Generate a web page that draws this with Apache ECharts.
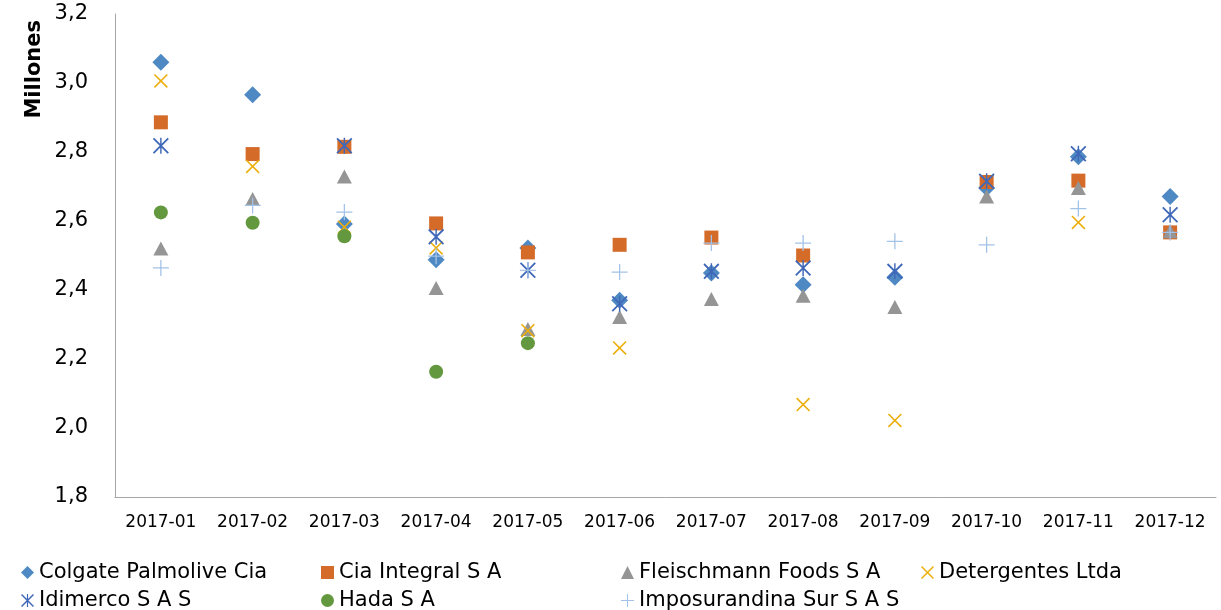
<!DOCTYPE html>
<html>
<head>
<meta charset="utf-8">
<script src="https://cdn.jsdelivr.net/npm/echarts@6/dist/echarts.min.js"></script>
<style>
  html, body { margin: 0; padding: 0; background: #fff; }
  #chart { width: 1221px; height: 610px; }
</style>
</head>
<body>
<div id="chart"></div>
<script>
// meses
const months = ["2017-01", "2017-02", "2017-03", "2017-04", "2017-05", "2017-06",
  "2017-07", "2017-08", "2017-09", "2017-10", "2017-11", "2017-12"];
const yTicks = [1.8, 2.0, 2.2, 2.4, 2.6, 2.8, 3.0, 3.2];

// valores en millones
const colgate = [3.06, 2.966, 2.591, 2.488, 2.522, 2.37, 2.449, 2.415, 2.437, 2.696, 2.786, 2.671];
const ciaIntegral = [2.886, 2.794, 2.815, 2.593, 2.509, 2.531, 2.552, 2.5, null, 2.713, 2.717, 2.567];
const fleischmann = [2.52, 2.664, 2.729, 2.406, 2.287, 2.322, 2.374, 2.383, 2.351, 2.671, 2.696, 2.57];
const detergentes = [3.006, 2.758, 2.582, 2.522, 2.282, 2.232, null, 2.068, 2.022, null, 2.596, null];
const idimerco = [2.818, null, 2.818, 2.554, 2.457, 2.36, 2.454, 2.464, 2.454, 2.715, 2.795, 2.618];
const hada = [2.625, 2.595, 2.556, 2.163, 2.246, null, null, null, null, null, null, null];
const imposurandina = [2.464, 2.645, 2.626, 2.498, 2.457, 2.452, 2.536, 2.536, 2.541, 2.531, 2.636, 2.567];

// simbolos de linea hechos con poligonos delgados
const xPath = "path://M0,0.8L0.8,0L10,9.2L9.2,10ZM9.2,0L10,0.8L0.8,10L0,9.2Z";
const starPath = "path://M0,0.8L0.8,0L10,9.2L9.2,10ZM9.2,0L10,0.8L0.8,10L0,9.2ZM4.55,0H5.45V10H4.55Z";
const plusPath = "path://M4.6,0H5.4V10H4.6ZM0,4.6H10V5.4H0Z";

const seriesDefs = [
  { name: "Colgate Palmolive Cia", data: colgate, symbol: "diamond", size: [17, 17], color: "#4F89C4" },
  { name: "Cia Integral S A", data: ciaIntegral, symbol: "rect", size: [14, 14], color: "#D46B29" },
  { name: "Fleischmann Foods S A", data: fleischmann, symbol: "triangle", size: [15, 14], color: "#959595" },
  { name: "Detergentes Ltda", data: detergentes, symbol: xPath, size: [14, 14], color: "#EBAE0B" },
  { name: "Idimerco S A S", data: idimerco, symbol: starPath, size: [16, 16], color: "#4068B8" },
  { name: "Hada S A", data: hada, symbol: "circle", size: [14, 14], color: "#63983E" },
  { name: "Imposurandina Sur S A S", data: imposurandina, symbol: plusPath, size: [16, 16], color: "#A3C2E8" },
];

const font = "DejaVu Sans";

const legends = seriesDefs.map((s, i) => ({
  data: [s.name],
  left: 16 + (i % 4) * 300,
  top: i < 4 ? 557 : 585,
  itemWidth: 13,
  itemHeight: 13,
  itemGap: 0,
  selectedMode: false,
  textStyle: { fontFamily: font, fontSize: 21, color: "#000" },
}));

const chart = echarts.init(document.getElementById("chart"));
chart.setOption({
  animation: false,
  grid: { left: 115, right: 5, top: 14, bottom: 113 },
  legend: legends,
  graphic: [{
    type: "text",
    left: 24,
    top: 20,
    rotation: Math.PI / 2,
    style: { text: "Millones", fontFamily: font, fontWeight: "bold", fontSize: 21, fill: "#000" },
  }],
  xAxis: {
    type: "category",
    data: months,
    boundaryGap: true,
    axisLine: { lineStyle: { color: "#A6A6A6", width: 1 } },
    axisTick: { show: false },
    axisLabel: { interval: 0, margin: 17, fontFamily: font, fontSize: 17, color: "#000" },
  },
  yAxis: {
    type: "value",
    min: yTicks[0],
    max: yTicks[yTicks.length - 1],
    interval: 0.2,
    splitLine: { show: false },
    axisLine: { show: true, lineStyle: { color: "#A6A6A6", width: 1 } },
    axisTick: { show: false },
    axisLabel: {
      margin: 27,
      fontFamily: font,
      fontSize: 21,
      color: "#000",
      formatter: (v) => v.toFixed(1).replace(".", ","),
    },
  },
  series: seriesDefs.map((s) => ({
    name: s.name,
    type: "scatter",
    data: s.data,
    symbol: s.symbol,
    symbolSize: s.size,
    itemStyle: { color: s.color, opacity: 1 },
  })),
});
</script>
</body>
</html>
